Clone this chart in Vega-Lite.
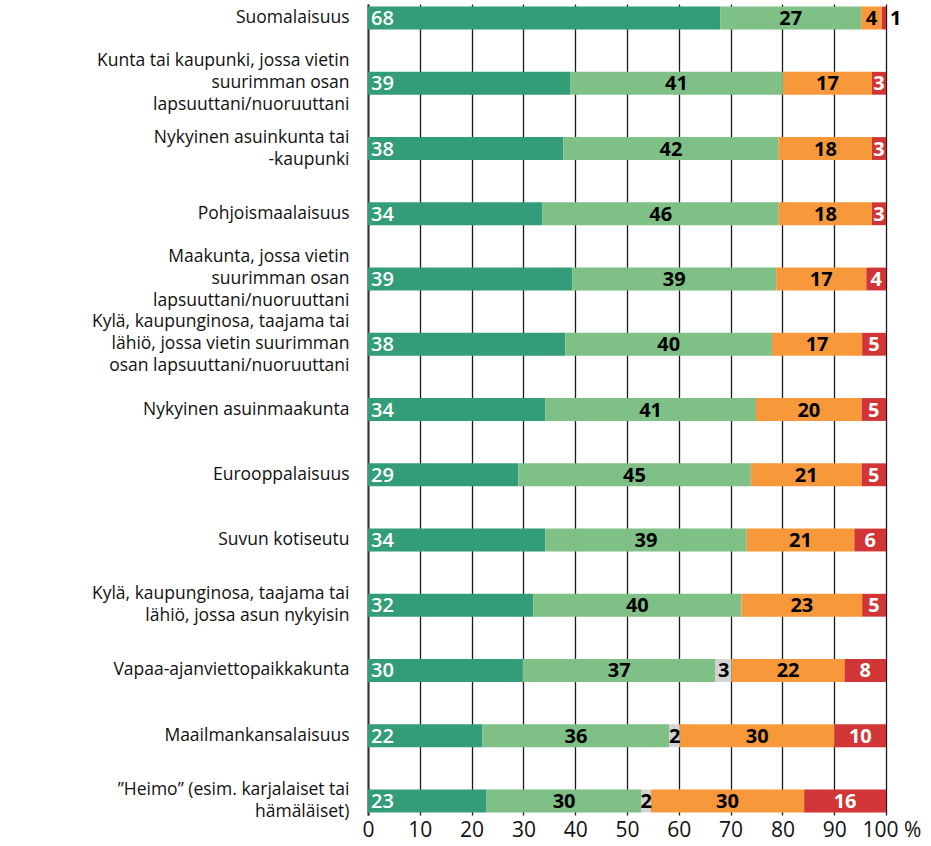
{
  "$schema": "https://vega.github.io/schema/vega-lite/v6.json",
  "width": 518,
  "height": 811,
  "autosize": {"type": "none"},
  "padding": {"left": 368, "top": 4, "right": 45, "bottom": 31},
  "background": "white",
  "config": {"view": {"stroke": null}, "font": "Open Sans"},
  "data": {"values": [
    {"kohde": "Suomalaisuus", "luokka": "Erittäin tärkeä", "arvo": 68.0},
    {"kohde": "Suomalaisuus", "luokka": "Melko tärkeä", "arvo": 27.2},
    {"kohde": "Suomalaisuus", "luokka": "Ei kovin tärkeä", "arvo": 4.0},
    {"kohde": "Suomalaisuus", "luokka": "Ei lainkaan tärkeä", "arvo": 0.8},
    {"kohde": "Kunta tai kaupunki, jossa vietin\nsuurimman osan\nlapsuuttani/nuoruuttani", "luokka": "Erittäin tärkeä", "arvo": 39.0},
    {"kohde": "Kunta tai kaupunki, jossa vietin\nsuurimman osan\nlapsuuttani/nuoruuttani", "luokka": "Melko tärkeä", "arvo": 41.1},
    {"kohde": "Kunta tai kaupunki, jossa vietin\nsuurimman osan\nlapsuuttani/nuoruuttani", "luokka": "Ei kovin tärkeä", "arvo": 17.2},
    {"kohde": "Kunta tai kaupunki, jossa vietin\nsuurimman osan\nlapsuuttani/nuoruuttani", "luokka": "Ei lainkaan tärkeä", "arvo": 2.7},
    {"kohde": "Nykyinen asuinkunta tai\n-kaupunki", "luokka": "Erittäin tärkeä", "arvo": 37.7},
    {"kohde": "Nykyinen asuinkunta tai\n-kaupunki", "luokka": "Melko tärkeä", "arvo": 41.6},
    {"kohde": "Nykyinen asuinkunta tai\n-kaupunki", "luokka": "Ei kovin tärkeä", "arvo": 18.0},
    {"kohde": "Nykyinen asuinkunta tai\n-kaupunki", "luokka": "Ei lainkaan tärkeä", "arvo": 2.7},
    {"kohde": "Pohjoismaalaisuus", "luokka": "Erittäin tärkeä", "arvo": 33.7},
    {"kohde": "Pohjoismaalaisuus", "luokka": "Melko tärkeä", "arvo": 45.6},
    {"kohde": "Pohjoismaalaisuus", "luokka": "Ei kovin tärkeä", "arvo": 18.0},
    {"kohde": "Pohjoismaalaisuus", "luokka": "Ei lainkaan tärkeä", "arvo": 2.7},
    {"kohde": "Maakunta, jossa vietin\nsuurimman osan\nlapsuuttani/nuoruuttani", "luokka": "Erittäin tärkeä", "arvo": 39.4},
    {"kohde": "Maakunta, jossa vietin\nsuurimman osan\nlapsuuttani/nuoruuttani", "luokka": "Melko tärkeä", "arvo": 39.4},
    {"kohde": "Maakunta, jossa vietin\nsuurimman osan\nlapsuuttani/nuoruuttani", "luokka": "Ei kovin tärkeä", "arvo": 17.4},
    {"kohde": "Maakunta, jossa vietin\nsuurimman osan\nlapsuuttani/nuoruuttani", "luokka": "Ei lainkaan tärkeä", "arvo": 3.8},
    {"kohde": "Kylä, kaupunginosa, taajama tai\nlähiö, jossa vietin suurimman\nosan lapsuuttani/nuoruuttani", "luokka": "Erittäin tärkeä", "arvo": 38.1},
    {"kohde": "Kylä, kaupunginosa, taajama tai\nlähiö, jossa vietin suurimman\nosan lapsuuttani/nuoruuttani", "luokka": "Melko tärkeä", "arvo": 39.9},
    {"kohde": "Kylä, kaupunginosa, taajama tai\nlähiö, jossa vietin suurimman\nosan lapsuuttani/nuoruuttani", "luokka": "Ei kovin tärkeä", "arvo": 17.4},
    {"kohde": "Kylä, kaupunginosa, taajama tai\nlähiö, jossa vietin suurimman\nosan lapsuuttani/nuoruuttani", "luokka": "Ei lainkaan tärkeä", "arvo": 4.6},
    {"kohde": "Nykyinen asuinmaakunta", "luokka": "Erittäin tärkeä", "arvo": 34.2},
    {"kohde": "Nykyinen asuinmaakunta", "luokka": "Melko tärkeä", "arvo": 40.7},
    {"kohde": "Nykyinen asuinmaakunta", "luokka": "Ei kovin tärkeä", "arvo": 20.4},
    {"kohde": "Nykyinen asuinmaakunta", "luokka": "Ei lainkaan tärkeä", "arvo": 4.7},
    {"kohde": "Eurooppalaisuus", "luokka": "Erittäin tärkeä", "arvo": 29.0},
    {"kohde": "Eurooppalaisuus", "luokka": "Melko tärkeä", "arvo": 44.9},
    {"kohde": "Eurooppalaisuus", "luokka": "Ei kovin tärkeä", "arvo": 21.4},
    {"kohde": "Eurooppalaisuus", "luokka": "Ei lainkaan tärkeä", "arvo": 4.7},
    {"kohde": "Suvun kotiseutu", "luokka": "Erittäin tärkeä", "arvo": 34.2},
    {"kohde": "Suvun kotiseutu", "luokka": "Melko tärkeä", "arvo": 38.9},
    {"kohde": "Suvun kotiseutu", "luokka": "Ei kovin tärkeä", "arvo": 20.8},
    {"kohde": "Suvun kotiseutu", "luokka": "Ei lainkaan tärkeä", "arvo": 6.1},
    {"kohde": "Kylä, kaupunginosa, taajama tai\nlähiö, jossa asun nykyisin", "luokka": "Erittäin tärkeä", "arvo": 31.9},
    {"kohde": "Kylä, kaupunginosa, taajama tai\nlähiö, jossa asun nykyisin", "luokka": "Melko tärkeä", "arvo": 40.2},
    {"kohde": "Kylä, kaupunginosa, taajama tai\nlähiö, jossa asun nykyisin", "luokka": "Ei kovin tärkeä", "arvo": 23.3},
    {"kohde": "Kylä, kaupunginosa, taajama tai\nlähiö, jossa asun nykyisin", "luokka": "Ei lainkaan tärkeä", "arvo": 4.6},
    {"kohde": "Vapaa-ajanviettopaikkakunta", "luokka": "Erittäin tärkeä", "arvo": 29.9},
    {"kohde": "Vapaa-ajanviettopaikkakunta", "luokka": "Melko tärkeä", "arvo": 37.2},
    {"kohde": "Vapaa-ajanviettopaikkakunta", "luokka": "En osaa sanoa", "arvo": 3.1},
    {"kohde": "Vapaa-ajanviettopaikkakunta", "luokka": "Ei kovin tärkeä", "arvo": 21.8},
    {"kohde": "Vapaa-ajanviettopaikkakunta", "luokka": "Ei lainkaan tärkeä", "arvo": 8.0},
    {"kohde": "Maailmankansalaisuus", "luokka": "Erittäin tärkeä", "arvo": 22.1},
    {"kohde": "Maailmankansalaisuus", "luokka": "Melko tärkeä", "arvo": 36.1},
    {"kohde": "Maailmankansalaisuus", "luokka": "En osaa sanoa", "arvo": 2.0},
    {"kohde": "Maailmankansalaisuus", "luokka": "Ei kovin tärkeä", "arvo": 29.9},
    {"kohde": "Maailmankansalaisuus", "luokka": "Ei lainkaan tärkeä", "arvo": 9.9},
    {"kohde": "”Heimo” (esim. karjalaiset tai\nhämäläiset)", "luokka": "Erittäin tärkeä", "arvo": 22.9},
    {"kohde": "”Heimo” (esim. karjalaiset tai\nhämäläiset)", "luokka": "Melko tärkeä", "arvo": 29.9},
    {"kohde": "”Heimo” (esim. karjalaiset tai\nhämäläiset)", "luokka": "En osaa sanoa", "arvo": 1.8},
    {"kohde": "”Heimo” (esim. karjalaiset tai\nhämäläiset)", "luokka": "Ei kovin tärkeä", "arvo": 29.6},
    {"kohde": "”Heimo” (esim. karjalaiset tai\nhämäläiset)", "luokka": "Ei lainkaan tärkeä", "arvo": 15.8}
  ]},
  "transform": [
    {"calculate": "indexof(['Erittäin tärkeä','Melko tärkeä','En osaa sanoa','Ei kovin tärkeä','Ei lainkaan tärkeä'], datum.luokka)", "as": "jarj"},
    {"stack": "arvo", "groupby": ["kohde"], "sort": [{"field": "jarj", "order": "ascending"}], "as": ["x0", "x1"]},
    {"calculate": "(datum.x0 + datum.x1) / 2", "as": "xm"}
  ],
  "encoding": {
    "y": {
      "field": "kohde", "type": "nominal", "sort": null,
      "scale": {"paddingInner": 0.65, "paddingOuter": 0.04},
      "axis": {
        "title": null, "ticks": false, "grid": false,
        "domain": true, "domainColor": "#333333", "domainWidth": 2,
        "labelFont": "Open Sans", "labelFontSize": 17.5, "labelColor": "#111111",
        "labelLimit": 0, "labelPadding": 19, "labelLineHeight": 22,
        "labelExpr": "split(datum.value, '\\n')",
        "labelOffset": {
          "condition": [
            {"test": "length(split(datum.value, '\\n')) == 3", "value": -22},
            {"test": "length(split(datum.value, '\\n')) == 2", "value": -11}
          ],
          "value": 0
        }
      }
    }
  },
  "layer": [
    {
      "mark": {"type": "bar"},
      "encoding": {
        "x": {
          "field": "x0", "type": "quantitative",
          "scale": {"domain": [0, 100], "nice": false},
          "axis": {
            "title": null, "values": [0, 10, 20, 30, 40, 50, 60, 70, 80, 90, 100],
            "grid": true, "gridColor": "#1a1a1a", "gridWidth": 1.3,
            "domain": false, "ticks": false,
            "labelFont": "Open Sans", "labelFontSize": 21, "labelColor": "#111111",
            "labelPadding": 4,
            "labelExpr": "datum.value == 100 ? '100 %' : datum.label",
            "labelAlign": {"condition": {"test": "datum.value == 100", "value": "left"}, "value": "center"},
            "labelOffset": {"condition": {"test": "datum.value == 100", "value": -24}, "value": 0}
          }
        },
        "x2": {"field": "x1"},
        "color": {
          "field": "luokka", "type": "nominal", "legend": null,
          "scale": {
            "domain": ["Erittäin tärkeä", "Melko tärkeä", "En osaa sanoa", "Ei kovin tärkeä", "Ei lainkaan tärkeä"],
            "range": ["#339c78", "#7fc087", "#d3d3d3", "#f7993a", "#d13535"]
          }
        }
      }
    },
    {
      "transform": [{"filter": "datum.luokka == 'Erittäin tärkeä'"}],
      "mark": {"type": "text", "align": "left", "baseline": "middle", "dx": 3, "dy": 1, "font": "Open Sans", "fontSize": 20, "fontWeight": 600, "color": "white"},
      "encoding": {
        "x": {"field": "x0", "type": "quantitative"},
        "text": {"field": "arvo", "type": "quantitative", "format": ".0f"}
      }
    },
    {
      "transform": [{"filter": "datum.luokka != 'Erittäin tärkeä' && datum.arvo >= 1.5"}],
      "mark": {"type": "text", "align": "center", "baseline": "middle", "dy": 1, "font": "Open Sans", "fontSize": 20, "fontWeight": "bold"},
      "encoding": {
        "x": {"field": "xm", "type": "quantitative"},
        "text": {"field": "arvo", "type": "quantitative", "format": ".0f"},
        "color": {"condition": {"test": "datum.luokka == 'Ei lainkaan tärkeä'", "value": "white"}, "value": "black"}
      }
    },
    {
      "transform": [{"filter": "datum.arvo < 1.5"}],
      "mark": {"type": "text", "align": "left", "baseline": "middle", "dx": 4, "dy": 1, "font": "Open Sans", "fontSize": 20, "fontWeight": "bold", "color": "black"},
      "encoding": {
        "x": {"field": "x1", "type": "quantitative"},
        "text": {"field": "arvo", "type": "quantitative", "format": ".0f"}
      }
    }
  ]
}
